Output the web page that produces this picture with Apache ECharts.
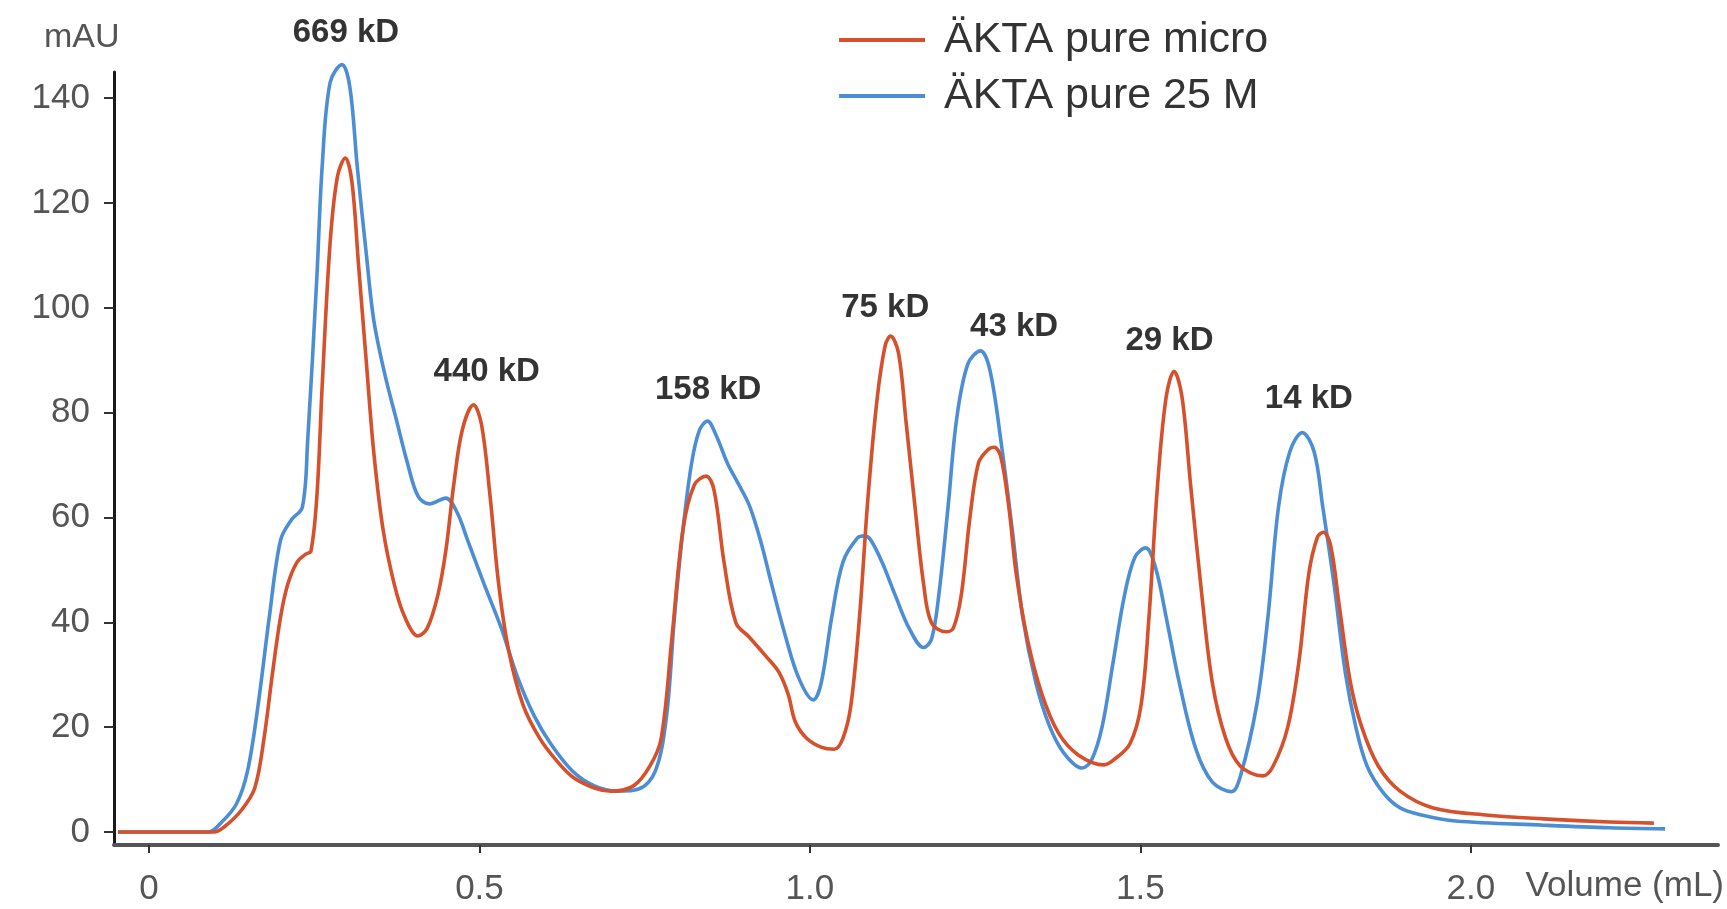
<!DOCTYPE html>
<html>
<head>
<meta charset="utf-8">
<style>
html,body{margin:0;padding:0;background:#fff;}
#chart{width:1727px;height:909px;}
</style>
<script src="https://cdn.jsdelivr.net/npm/echarts@6/dist/echarts.min.js"></script>
</head>
<body>
<div id="chart"></div>
<script>
// ---- DATA ----
const seriesNames = ['ÄKTA pure micro', 'ÄKTA pure 25 M'];
const xAxisTitle = 'Volume (mL)';
const yAxisTitle = 'mAU';

// ÄKTA pure 25 M (blue): [volume mL, mAU]
const blueData = [
[-0.047,0],[0.09,0],[0.107,1.5],[0.132,5.3],[0.149,11.6],[0.165,24.2],[0.182,41],[0.199,55.7],
[0.215,59.5],[0.232,62],[0.240,74.6],[0.254,106],[0.262,127],[0.274,143],[0.292,146.4],[0.304,142],
[0.315,127],[0.329,110],[0.340,97.7],[0.357,87.2],[0.374,78.8],[0.391,70.4],[0.407,64.1],[0.424,62.6],
[0.449,63.7],[0.466,61],[0.482,55.7],[0.507,47.3],[0.533,38.9],[0.558,29.4],[0.583,22.1],[0.608,16.8],
[0.641,11.6],[0.674,8.8],[0.708,7.8],[0.741,8.2],[0.766,11.6],[0.783,22.1],[0.795,41],[0.808,57.8],
[0.821,70.4],[0.833,76.7],[0.845,78.4],[0.858,75.7],[0.875,70.4],[0.891,66.6],[0.908,62.4],[0.925,55.7],
[0.942,47.3],[0.962,37.8],[0.983,29.4],[1.005,25.2],[1.017,28.4],[1.033,41],[1.050,51.5],[1.072,56.1],
[1.083,56.5],[1.092,55.7],[1.109,51.5],[1.129,45.2],[1.150,38.9],[1.172,35.2],[1.184,36.8],[1.195,45.2],
[1.209,62],[1.222,78.8],[1.239,89.3],[1.258,91.8],[1.272,88.3],[1.289,74.6],[1.306,57.8],[1.322,41],
[1.342,28.4],[1.362,20.4],[1.384,15.1],[1.412,12.2],[1.426,13.7],[1.442,20],[1.459,32.6],[1.476,45.2],
[1.492,52.5],[1.508,54.2],[1.523,50.4],[1.539,41],[1.559,28.4],[1.584,15.8],[1.609,9.5],[1.638,7.7],
[1.651,10.5],[1.676,24.2],[1.693,41],[1.709,62],[1.726,72.5],[1.745,76.2],[1.763,72.5],[1.776,62],
[1.793,47.3],[1.810,30.5],[1.826,20],[1.843,12.6],[1.868,7.4],[1.893,4.6],[1.927,3.2],[1.977,2.1],
[2.110,1.3],[2.210,0.8],[2.294,0.6]
];

// ÄKTA pure micro (red): [volume mL, mAU]
const redData = [
[-0.047,0],[0.098,0],[0.115,1.1],[0.140,4.2],[0.160,8.4],[0.174,17.9],[0.187,30.5],[0.199,41],
[0.210,47.3],[0.224,51.5],[0.237,53],[0.245,53.6],[0.254,64.1],[0.262,85.1],[0.274,112.4],[0.285,125],
[0.297,128.6],[0.307,124],[0.317,108.2],[0.329,89.3],[0.340,72.5],[0.354,57.8],[0.371,47.3],[0.387,41],
[0.407,37.4],[0.421,38.9],[0.437,45.2],[0.449,53.6],[0.461,66.2],[0.474,76.7],[0.491,81.5],[0.503,77.8],
[0.516,64.1],[0.529,47.3],[0.544,34.7],[0.566,24.2],[0.591,17.9],[0.616,13.7],[0.641,10.5],[0.674,8.4],
[0.699,7.8],[0.733,8.8],[0.758,12.6],[0.775,17.9],[0.791,36.8],[0.808,57.8],[0.825,66.2],[0.843,67.9],
[0.855,65.2],[0.870,51.5],[0.888,39.9],[0.908,37.2],[0.933,33.6],[0.953,30.5],[0.967,26.3],[0.978,21],
[0.995,17.9],[1.017,16.2],[1.037,15.8],[1.050,17.9],[1.062,24.2],[1.075,41],[1.088,64.1],[1.102,83],
[1.114,92.9],[1.122,94.6],[1.134,91.4],[1.145,78.8],[1.159,62],[1.172,47.3],[1.184,39.9],[1.206,38.2],
[1.217,38.9],[1.229,45.2],[1.242,59.9],[1.255,70.4],[1.269,72.9],[1.279,73.4],[1.289,71.5],[1.301,62],
[1.312,49.4],[1.329,36.8],[1.351,26.3],[1.376,18.9],[1.406,14.7],[1.445,12.8],[1.459,13.7],[1.484,16.8],
[1.501,24.2],[1.513,41],[1.526,66.2],[1.539,83],[1.551,87.9],[1.563,83],[1.576,66.2],[1.593,45.2],
[1.609,28.4],[1.629,17.9],[1.651,12.6],[1.685,10.7],[1.701,12.6],[1.723,20],[1.740,32.6],[1.755,49.4],
[1.768,56.3],[1.777,57.2],[1.788,54.6],[1.801,43.1],[1.818,28.4],[1.835,20],[1.860,12.6],[1.893,7.8],
[1.943,4.6],[2.027,3.2],[2.110,2.5],[2.210,1.9],[2.277,1.7]
];

// Peak annotations
const peakNames = ['669 kD','440 kD','158 kD','75 kD','43 kD','29 kD','14 kD'];
const peakX = [0.298, 0.511, 0.846, 1.114, 1.309, 1.544, 1.755];
const peakY = [152.4, 87.8, 84.3, 100.0, 96.4, 93.7, 82.7];

const xTickValues = [0, 0.5, 1.0, 1.5, 2.0];
const xTickLabels = ['0', '0.5', '1.0', '1.5', '2.0'];
const yTickValues = [0, 20, 40, 60, 80, 100, 120, 140];

// ---- CHART ----
const FONT = "'Liberation Sans', Arial, Helvetica, sans-serif";
const chart = echarts.init(document.getElementById('chart'));
const peakData = peakNames.map((n, i) => ({ name: n, value: [peakX[i], peakY[i]] }));

chart.setOption({
  animation: false,
  backgroundColor: '#fff',
  grid: { left: 114, right: 9, top: 72, bottom: 64, containLabel: false },
  legend: {
    data: seriesNames,
    orient: 'vertical',
    left: 834,
    top: 12,
    icon: 'rect',
    itemWidth: 86,
    itemHeight: 4,
    itemGap: 10,
    selectedMode: false,
    textStyle: { fontFamily: FONT, fontSize: 43, color: '#333', lineHeight: 46, padding: [0, 0, 0, 14] }
  },
  graphic: [
    {
      type: 'text', right: 3, top: 869, silent: true,
      style: { text: xAxisTitle, fontFamily: FONT, fontSize: 35, fill: '#555' }
    },
    {
      type: 'text', left: 44, top: 21, silent: true,
      style: { text: yAxisTitle, fontFamily: FONT, fontSize: 34, fill: '#555' }
    }
  ],
  xAxis: {
    type: 'value',
    min: -0.053,
    max: 2.374,
    axisLine: { show: true, onZero: false, lineStyle: { color: '#555', width: 4 } },
    axisTick: { show: true, length: 8, customValues: xTickValues, lineStyle: { color: '#333', width: 2 } },
    axisLabel: {
      customValues: xTickValues,
      margin: 27,
      fontFamily: FONT, fontSize: 35, color: '#555',
      formatter: function (v) { const i = xTickValues.findIndex(t => Math.abs(t - v) < 1e-9); return i >= 0 ? xTickLabels[i] : ''; }
    },
    splitLine: { show: false }
  },
  yAxis: {
    type: 'value',
    min: -2.48,
    max: 145,
    axisLine: { show: true, onZero: false, lineStyle: { color: '#1a1a1a', width: 3 } },
    axisTick: { show: true, length: 10, customValues: yTickValues, lineStyle: { color: '#333', width: 2 } },
    axisLabel: { customValues: yTickValues, margin: 24, fontFamily: FONT, fontSize: 35, color: '#555' },
    splitLine: { show: false }
  },
  series: [
    {
      name: seriesNames[1], type: 'line', data: blueData, symbol: 'none', smooth: 0.35, clip: false,
      lineStyle: { color: '#4b8ed6', width: 3.6 }, itemStyle: { color: '#4b8ed6' }, z: 2
    },
    {
      name: seriesNames[0], type: 'line', data: redData, symbol: 'none', smooth: 0.35, clip: false,
      lineStyle: { color: '#d6502b', width: 3.6 }, itemStyle: { color: '#d6502b' }, z: 3
    },
    {
      name: 'peaks', type: 'scatter', data: peakData, symbolSize: 0, clip: false, silent: true, z: 5,
      label: { show: true, position: 'inside', formatter: p => p.name, fontFamily: FONT, fontSize: 33, fontWeight: 'bold', color: '#000' }
    }
  ]
});
</script>
</body>
</html>
